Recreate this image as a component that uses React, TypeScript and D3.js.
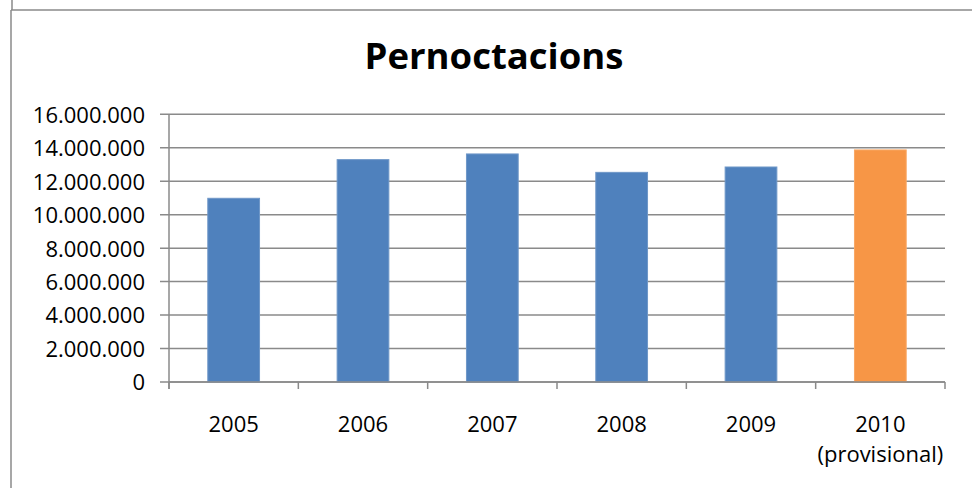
import React from 'react';
import * as d3 from 'd3';

const width = 972;
const height = 488;

const years = ['2005', '2006', '2007', '2008', '2009', '2010'];
const yearNotes = ['', '', '', '', '', '(provisional)'];
const nights = [10980000, 13290000, 13630000, 12530000, 12850000, 13870000];
const yTicks = [0, 2000000, 4000000, 6000000, 8000000, 10000000, 12000000, 14000000, 16000000];

const margin = { left: 169, right: 27, top: 114.3, bottom: 106 };
const font = '"Open Sans", Lato, sans-serif';
const gridColor = '#8a8a8a';

const fmt = (v: number) => d3.format(',')(v).replace(/,/g, '.');

const App = () => {
    const x = d3.scaleBand<string>()
        .domain(years)
        .range([margin.left, width - margin.right])
        .paddingInner(0.6)
        .paddingOuter(0.3);

    const y = d3.scaleLinear()
        .domain([0, 16000000])
        .range([height - margin.bottom, margin.top]);

    const x0 = margin.left;
    const x1 = width - margin.right;
    // band boundaries for the category ticks
    const bounds = d3.range(years.length + 1).map((i) => x0 + i * (x1 - x0) / years.length);

    return (
        <div style={{ position: 'absolute', left: 0, top: 0 }}>
            <svg width={width} height={height} style={{ display: 'block', background: '#fff' }}>
                {/* chart frame */}
                <line x1={12} x2={12} y1={0} y2={10} stroke={gridColor} strokeWidth={1.5} />
                <line x1={11} x2={width} y1={10} y2={10} stroke={gridColor} strokeWidth={1.5} />
                <line x1={11} x2={11} y1={10} y2={height} stroke={gridColor} strokeWidth={1.5} />

                <text x={494} y={69} textAnchor="middle" fontFamily={font} fontWeight="bold"
                    fontSize={36.5} fill="#000">Pernoctacions</text>

                {/* gridlines + y ticks */}
                {yTicks.map((t) => (
                    <g key={t}>
                        <line x1={160} x2={x1} y1={y(t)} y2={y(t)} stroke={gridColor} strokeWidth={1.5} />
                        <text x={145} y={y(t)} dy="0.38em" textAnchor="end" fontFamily={font}
                            fontSize={22} fill="#000">{fmt(t)}</text>
                    </g>
                ))}

                {/* bars */}
                {nights.map((v, i) => (
                    <rect key={years[i]} x={x(years[i])} y={y(v)} width={x.bandwidth()}
                        height={y(0) - y(v)}
                        fill={i === years.length - 1 ? '#F79646' : '#4F81BD'}
                        stroke={i === years.length - 1 ? '#F9A865' : '#6F97C8'} strokeWidth={1} />
                ))}

                {/* axes */}
                <line x1={x0} x2={x0} y1={margin.top} y2={y(0) + 7} stroke={gridColor} strokeWidth={1.5} />
                <line x1={x0} x2={x1} y1={y(0)} y2={y(0)} stroke={gridColor} strokeWidth={1.5} />
                {bounds.map((b) => (
                    <line key={b} x1={b} x2={b} y1={y(0)} y2={y(0) + 7} stroke={gridColor} strokeWidth={1.5} />
                ))}

                {years.map((yr, i) => (
                    <text key={yr} x={(x(yr) ?? 0) + x.bandwidth() / 2} y={432} textAnchor="middle"
                        fontFamily={font} fontSize={22} fill="#000">
                        <tspan>{yr}</tspan>
                        {yearNotes[i] && (
                            <tspan x={(x(yr) ?? 0) + x.bandwidth() / 2} dy={30}>{yearNotes[i]}</tspan>
                        )}
                    </text>
                ))}
            </svg>
        </div>
    );
};

export default App;
